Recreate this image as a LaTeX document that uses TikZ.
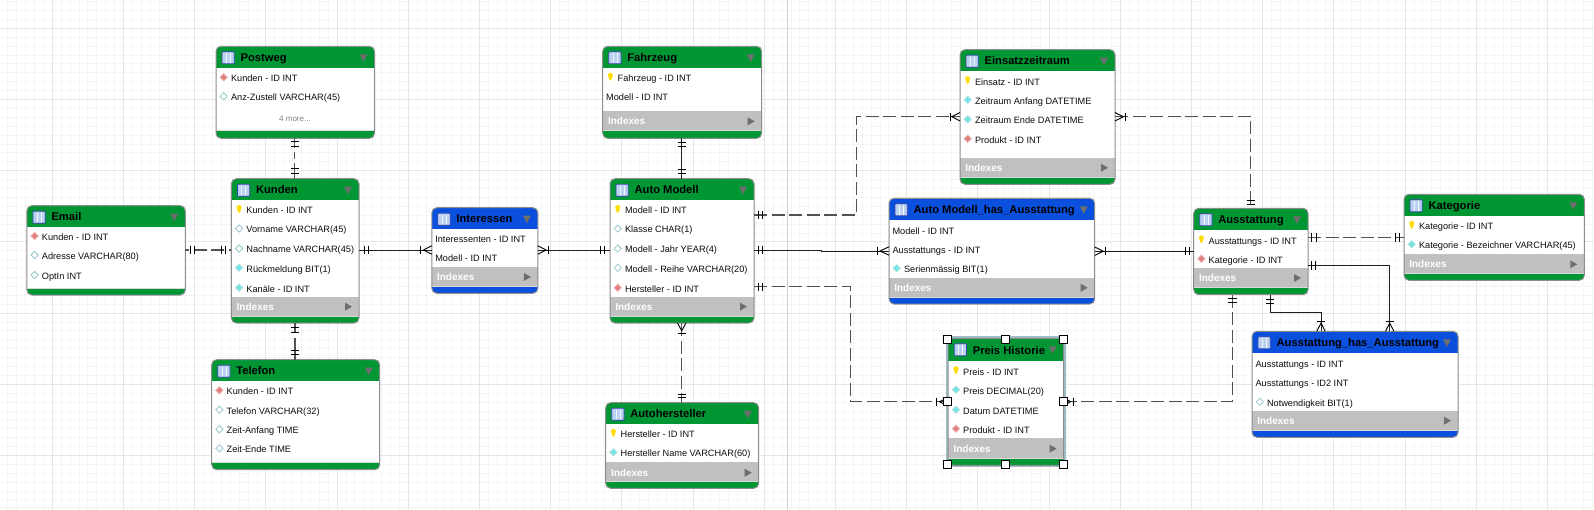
\documentclass[tikz,border=0pt]{standalone}
\usepackage{fontspec}
\setmainfont{Liberation Sans}
\usetikzlibrary{calc}
\definecolor{tgreen}{RGB}{0,150,52}
\definecolor{tblue}{RGB}{10,80,220}
\definecolor{tband}{RGB}{192,192,192}
\definecolor{tedge}{RGB}{140,140,140}
\definecolor{gmin}{RGB}{245,245,245}
\definecolor{gmaj}{RGB}{230,230,230}
\definecolor{gpage}{RGB}{208,208,208}
\definecolor{trigray}{RGB}{110,110,110}
\definecolor{diacy}{RGB}{115,228,230}
\definecolor{diacye}{RGB}{175,225,228}
\definecolor{diafk}{RGB}{228,125,125}
\definecolor{diafke}{RGB}{235,175,175}
\definecolor{diaop}{RGB}{150,200,205}
\definecolor{iconf}{RGB}{185,208,240}
\definecolor{icone}{RGB}{55,70,170}
\definecolor{selc}{RGB}{160,190,200}
\newcounter{lblc}
\tikzset{
  tbl/.style={inner sep=0pt,outer sep=0pt,rectangle,fill=white},
  rowtxt/.style={inner sep=0pt,outer sep=0pt,anchor=mid west,font=\fontsize{9.2}{11}\selectfont,text=black!95},
  ttltxt/.style={inner sep=0pt,outer sep=0pt,anchor=mid west,font=\fontsize{11.2}{13}\selectfont\bfseries,text=black},
  idxtxt/.style={inner sep=0pt,outer sep=0pt,anchor=mid west,font=\fontsize{10}{12}\selectfont\bfseries,text=white},
  rel/.style={line width=.9pt,draw=black!88},
  reld/.style={line width=1.1pt,draw=black!68,dash pattern=on 13pt off 4.5pt},
  mk/.style={line width=.9pt,draw=black},
  handle/.style={draw=black,fill=white,line width=.9pt,minimum size=8pt,inner sep=0pt,outer sep=0pt,rectangle},
}
% #1 name, #2 x1, #3 y1, #4 x2, #5 y2, #6 header bottom, #7 band top (or none=#8), #8 footer top, #9 colour
\newcommand\dbtable[9]{%
  \pgfmathsetmacro\tw{#4-#2}\pgfmathsetmacro\th{#5-#3}%
  \node[tbl,minimum width=\tw pt,minimum height=\th pt,rounded corners=5pt] (#1) at ({(#2+#4)/2},{(#3+#5)/2}) {};
  \begin{scope}
    \clip[rounded corners=5pt] (#2,#3) rectangle (#4,#5);
    \fill[#9] (#2,#3) rectangle (#4,#6);
    \fill[tband] (#2,#7) rectangle (#4,#8);
    \fill[#9] (#2,#8) rectangle (#4,#5);
    \draw[white!85!black,line width=.8pt] (#2,#8) -- (#4,#8);
  \end{scope}
  \draw[tedge,line width=1pt,rounded corners=5pt] (#2,#3) rectangle (#4,#5);
  \fill[iconf,draw=icone,line width=.7pt,rounded corners=.8pt] (#2+6,#3+5.5) rectangle ++(12.3,12);
  \draw[white!80!iconf,line width=.5pt] (#2+10.2,#3+7) -- ++(0,9.5) (#2+14.1,#3+7) -- ++(0,9.5);
  \fill[trigray] (#4-15,#3+8) -- ++(8,0) -- ++(-4,7.5) -- cycle;
}
\newcommand\ttl[3]{\stepcounter{lblc}\node[ttltxt] (lbl\arabic{lblc}) at ([xshift=24.6pt,yshift=-1pt]#1.west |- 0,#2) {#3};}
\newcommand\idx[2]{\stepcounter{lblc}\node[idxtxt] (lbl\arabic{lblc}) at ([xshift=5.3pt,yshift=-1pt]#1.west |- 0,#2) {Indexes};
  \fill[trigray] ([xshift=-14pt,yshift=4pt]#1.east |- 0,#2) -- ++(7,4) -- ++(-7,4) -- cycle;}
\newcommand\rowplain[3]{\stepcounter{lblc}\node[rowtxt] (lbl\arabic{lblc}) at ([xshift=3.5pt,yshift=-.8pt]#1.west |- 0,#2) {#3};}
\newcommand\rowicon[3]{\stepcounter{lblc}\node[rowtxt] (lbl\arabic{lblc}) at ([xshift=15pt,yshift=-.8pt]#1.west |- 0,#2) {#3};}
\newcommand\rowkey[3]{\rowicon{#1}{#2}{#3}
  \begin{scope}[shift={([xshift=7.7pt,yshift=1pt]#1.west |- 0,#2)}]
    \fill[yellow!80!orange] (-2.5,-2) arc (180:0:2.5pt) -- (1.2,2) -- (0,3.5) -- (-1.2,2) -- cycle;
  \end{scope}}
\newcommand\rowdia[5]{\rowicon{#1}{#2}{#3}
  \begin{scope}[shift={([xshift=7.7pt,yshift=1pt]#1.west |- 0,#2)}]
    \path[fill=#4,draw=#5,line width=.8pt] (-3.6,0) -- (0,-3.6) -- (3.6,0) -- (0,3.6) -- cycle;
  \end{scope}}
\newcommand\rowfk[3]{\rowdia{#1}{#2}{#3}{diafk}{diafke}}
\newcommand\rowop[3]{\rowdia{#1}{#2}{#3}{white}{diaop}}
\newcommand\rowcy[3]{\rowdia{#1}{#2}{#3}{diacy}{diacye}}
% marks on connectors
\newcommand\hk[2]{\draw[mk] (#1,#2-4.2) -- (#1,#2+4.2);}
\newcommand\vk[2]{\draw[mk] (#1-4.2,#2) -- (#1+4.2,#2);}
\newcommand\crowh[3]{\draw[mk] (#3,#2-4.2) -- (#1,#2) -- (#3,#2+4.2);}
\newcommand\crowv[3]{\draw[mk] (#1-4.2,#3) -- (#1,#2) -- (#1+4.2,#3);}
\begin{document}
\begin{tikzpicture}[x=1pt,y=-1pt]
\useasboundingbox (0,0) rectangle (1594,509);
\fill[white] (0,0) rectangle (1594,509);
% sheet grid
\foreach \k in {-6,...,174}{\pgfmathsetmacro\gx{52.3+8.9*\k}\draw[gmin,line width=.9pt] (\gx,0) -- (\gx,509);}
\foreach \k in {-3,...,54}{\pgfmathsetmacro\gy{28.3+8.9*\k}\draw[gmin,line width=.9pt] (0,\gy) -- (1594,\gy);}
\foreach \k in {0,...,21}{\pgfmathsetmacro\gx{52.3+71.2*\k}\draw[gmaj,line width=.9pt] (\gx,0) -- (\gx,509);}
\foreach \k in {0,...,6}{\pgfmathsetmacro\gy{28.3+71.2*\k}\draw[gmaj,line width=.9pt] (0,\gy) -- (1594,\gy);}
\draw[gpage,line width=1pt] (787.8,0) -- (787.8,509);

% tables
\dbtable{email}{26.9}{205.7}{185.3}{295}{227}{288}{288}{tgreen}
\dbtable{postweg}{216}{46.3}{374.5}{138.3}{67.7}{130.7}{130.7}{tgreen}
\dbtable{kunden}{231.4}{178.7}{359}{323}{200}{297}{316.5}{tgreen}
\dbtable{telefon}{211.7}{359.7}{379.7}{469.7}{381}{462.7}{462.7}{tgreen}
\dbtable{interessen}{431.8}{207.7}{537.9}{293.3}{229.3}{267}{286.5}{tblue}
\dbtable{fahrzeug}{602.7}{46.3}{761.7}{138.3}{68}{111.3}{130.5}{tgreen}
\dbtable{automodell}{610}{178.7}{754}{323}{200}{297}{316.5}{tgreen}
\dbtable{hersteller}{605.7}{402.7}{758.7}{488.3}{424}{462.3}{481.7}{tgreen}
\dbtable{einsatz}{960}{49.7}{1115}{184.3}{71.3}{158.3}{177.5}{tgreen}
\dbtable{amha}{889}{198.3}{1094.7}{304}{220}{277.7}{297.3}{tblue}
\dbtable{ausstattung}{1193.7}{208.3}{1308}{294.7}{230}{268}{287.7}{tgreen}
\dbtable{kategorie}{1404}{194.3}{1584.3}{280.3}{216.3}{254.3}{273.5}{tgreen}
\draw[selc,line width=4pt] (948.2,338.3) rectangle (1063.6,465.3);
\dbtable{preis}{948.2}{338.3}{1063.6}{465.3}{361}{438.3}{458}{tgreen}
\dbtable{aha}{1252}{331.3}{1458}{437.3}{353.3}{410.7}{430}{tblue}

% connectors
\draw[reld,dash phase=8.9pt] (email.east |- 0,250) -- (kunden.west |- 0,250);
\draw[reld,dash pattern=on 10pt off 4pt on 7pt off 4pt on 20pt off 0pt] (postweg.south -| 294.8,0) -- (kunden.north -| 294.8,0);
\draw[reld,dash pattern=on 10pt off 5pt on 12pt off 1pt on 12pt off 0pt] (kunden.south -| 295,0) -- (telefon.north -| 295,0);
\draw[rel] (kunden.east |- 0,250) -- (interessen.west |- 0,250);
\draw[rel] (interessen.east |- 0,250) -- (automodell.west |- 0,250);
\draw[rel] (fahrzeug.south -| 681.7,0) -- (automodell.north -| 681.7,0);
\draw[reld] (automodell.south -| 681.7,0) -- (hersteller.north -| 681.7,0);
\draw[reld] (automodell.east |- 0,215) -- (856.3,215) -- (856.3,116.7) -- (einsatz.west |- 0,116.7);
\draw[reld] (einsatz.east |- 0,116.7) -- (1250.7,116.7) -- (ausstattung.north -| 1250.7,0);
\draw[rel] (automodell.east |- 0,250) -- (821.7,250) -- (821.7,251) -- (amha.west |- 0,251);
\draw[rel] (amha.east |- 0,251.2) -- (ausstattung.west |- 0,251.2);
\draw[reld] (ausstattung.east |- 0,237.3) -- (kategorie.west |- 0,237.3);
\draw[rel] (ausstattung.south -| 1270,0) -- (1270,312.3) -- (1321,312.3) -- (aha.north -| 1321,0);
\draw[rel] (ausstattung.east |- 0,265.3) -- (1389.7,265.3) -- (aha.north -| 1389.7,0);
\draw[reld] (automodell.east |- 0,286.7) -- (850.3,286.7) -- (850.3,401.7) -- (preis.west |- 0,401.7);
\draw[reld] (ausstattung.south -| 1232.3,0) -- (1232.3,401.7) -- (preis.east |- 0,401.7);

% cardinality marks
\hk{190.4}{250}\hk{194.6}{250}\hk{221.4}{250}\hk{225.5}{250}
\vk{294.8}{141.7}\vk{294.8}{146}\vk{294.8}{168.3}\vk{294.8}{173}
\vk{295}{327.3}\vk{295}{332}\vk{295}{350.7}\vk{295}{354.5}
\hk{364.3}{250}\hk{368.5}{250}\hk{420.8}{250}\crowh{423.5}{250}{431.8}
\crowh{546}{250}{537.9}\hk{548}{250}\hk{600}{250}\hk{604}{250}
\vk{681.7}{142.3}\vk{681.7}{146.5}\vk{681.7}{169.3}\vk{681.7}{173}
\crowv{681.7}{330.7}{323}\vk{681.7}{333}\vk{681.7}{394}\vk{681.7}{397.7}
\hk{758.3}{215}\hk{762.3}{215}\hk{950}{116.7}\crowh{951.7}{116.7}{960}
\crowh{1123.3}{116.7}{1115}\hk{1125}{116.7}\vk{1250.7}{200}\vk{1250.7}{204}
\hk{758.7}{250}\hk{762.7}{250}\hk{877.7}{251}\crowh{880}{251}{889}
\crowh{1103.3}{251.2}{1094.7}\hk{1105}{251.2}\hk{1185}{251.2}\hk{1189.3}{251.2}
\hk{1311.5}{237.3}\hk{1316}{237.3}\hk{1395}{237.3}\hk{1399}{237.3}
\vk{1270}{299.3}\vk{1270}{303}\vk{1321}{321}\crowv{1321}{323}{331.3}
\hk{1311.7}{265.3}\hk{1315.7}{265.3}\vk{1389.7}{321}\crowv{1389.7}{323}{331.3}
\hk{758}{286.7}\hk{762}{286.7}\hk{936.7}{401.7}\crowh{939.5}{401.7}{948.2}
\vk{1232.3}{298.3}\vk{1232.3}{302.7}\hk{1073}{401.7}\crowh{1070.5}{401.7}{1063.6}

% texts
\ttl{email}{217}{Email}
\rowfk{email}{237}{Kunden - ID INT}
\rowop{email}{256}{Adresse VARCHAR(80)}
\rowop{email}{276}{OptIn INT}

\ttl{postweg}{57.7}{Postweg}
\rowfk{postweg}{78.3}{Kunden - ID INT}
\rowop{postweg}{97.3}{Anz-Zustell VARCHAR(45)}
\stepcounter{lblc}\node[inner sep=0pt,text=black!50,font=\fontsize{8}{10}\selectfont] (lbl\arabic{lblc}) at (295,118.7) {4 more...};

\ttl{kunden}{190}{Kunden}
\rowkey{kunden}{210.5}{Kunden - ID INT}
\rowop{kunden}{229.5}{Vorname VARCHAR(45)}
\rowop{kunden}{249.5}{Nachname VARCHAR(45)}
\rowcy{kunden}{268.7}{Rückmeldung BIT(1)}
\rowcy{kunden}{288.7}{Kanäle - ID INT}
\idx{kunden}{306.7}

\ttl{telefon}{371}{Telefon}
\rowfk{telefon}{391.3}{Kunden - ID INT}
\rowop{telefon}{410.7}{Telefon VARCHAR(32)}
\rowop{telefon}{430.3}{Zeit-Anfang TIME}
\rowop{telefon}{449.3}{Zeit-Ende TIME}

\ttl{interessen}{219}{Interessen}
\rowplain{interessen}{239.3}{Interessenten - ID INT}
\rowplain{interessen}{258.3}{Modell - ID INT}
\idx{interessen}{277}

\ttl{fahrzeug}{58}{Fahrzeug}
\rowkey{fahrzeug}{78.3}{Fahrzeug - ID INT}
\rowplain{fahrzeug}{97.3}{Modell - ID INT}
\idx{fahrzeug}{121.3}

\ttl{automodell}{190}{Auto Modell}
\rowkey{automodell}{210.5}{Modell - ID INT}
\rowop{automodell}{229.5}{Klasse CHAR(1)}
\rowop{automodell}{249.5}{Modell - Jahr YEAR(4)}
\rowop{automodell}{268.7}{Modell - Reihe VARCHAR(20)}
\rowfk{automodell}{288.7}{Hersteller - ID INT}
\idx{automodell}{306.7}

\ttl{hersteller}{414}{Autohersteller}
\rowkey{hersteller}{434.3}{Hersteller - ID INT}
\rowcy{hersteller}{453.3}{Hersteller Name VARCHAR(60)}
\idx{hersteller}{472.7}

\ttl{einsatz}{61}{Einsatzzeitraum}
\rowkey{einsatz}{81.7}{Einsatz - ID INT}
\rowcy{einsatz}{100.7}{Zeitraum Anfang DATETIME}
\rowcy{einsatz}{120.3}{Zeitraum Ende DATETIME}
\rowfk{einsatz}{139.7}{Produkt - ID INT}
\idx{einsatz}{167.7}

\ttl{amha}{210}{Auto Modell\_has\_Ausstattung}
\rowplain{amha}{230.7}{Modell - ID INT}
\rowplain{amha}{249.7}{Ausstattungs - ID INT}
\rowcy{amha}{269.3}{Serienmässig BIT(1)}
\idx{amha}{287.7}

\ttl{ausstattung}{220}{Ausstattung}
\rowkey{ausstattung}{240.7}{Ausstattungs - ID INT}
\rowfk{ausstattung}{259.7}{Kategorie - ID INT}
\idx{ausstattung}{278}

\ttl{kategorie}{206}{Kategorie}
\rowkey{kategorie}{226.3}{Kategorie - ID INT}
\rowcy{kategorie}{245.3}{Kategorie - Bezeichner VARCHAR(45)}
\idx{kategorie}{264.3}

\ttl{preis}{351}{Preis Historie}
\rowkey{preis}{371.7}{Preis - ID INT}
\rowcy{preis}{390.7}{Preis DECIMAL(20)}
\rowcy{preis}{410.7}{Datum DATETIME}
\rowfk{preis}{429.7}{Produkt - ID INT}
\idx{preis}{448.7}

\ttl{aha}{343}{Ausstattung\_has\_Ausstattung}
\rowplain{aha}{363.7}{Ausstattungs - ID INT}
\rowplain{aha}{382.7}{Ausstattungs - ID2 INT}
\rowop{aha}{402.7}{Notwendigkeit BIT(1)}
\idx{aha}{420.7}

% selection handles
\node[handle] (h1) at (947.5,339.5) {};
\node[handle] (h2) at (1005.5,339.5) {};
\node[handle] (h3) at (1063,339.5) {};
\node[handle] (h4) at (947.5,401.7) {};
\node[handle] (h5) at (1063,401.7) {};
\node[handle] (h6) at (947.5,464) {};
\node[handle] (h7) at (1005.5,464) {};
\node[handle] (h8) at (1063,464) {};
\end{tikzpicture}
\end{document}
